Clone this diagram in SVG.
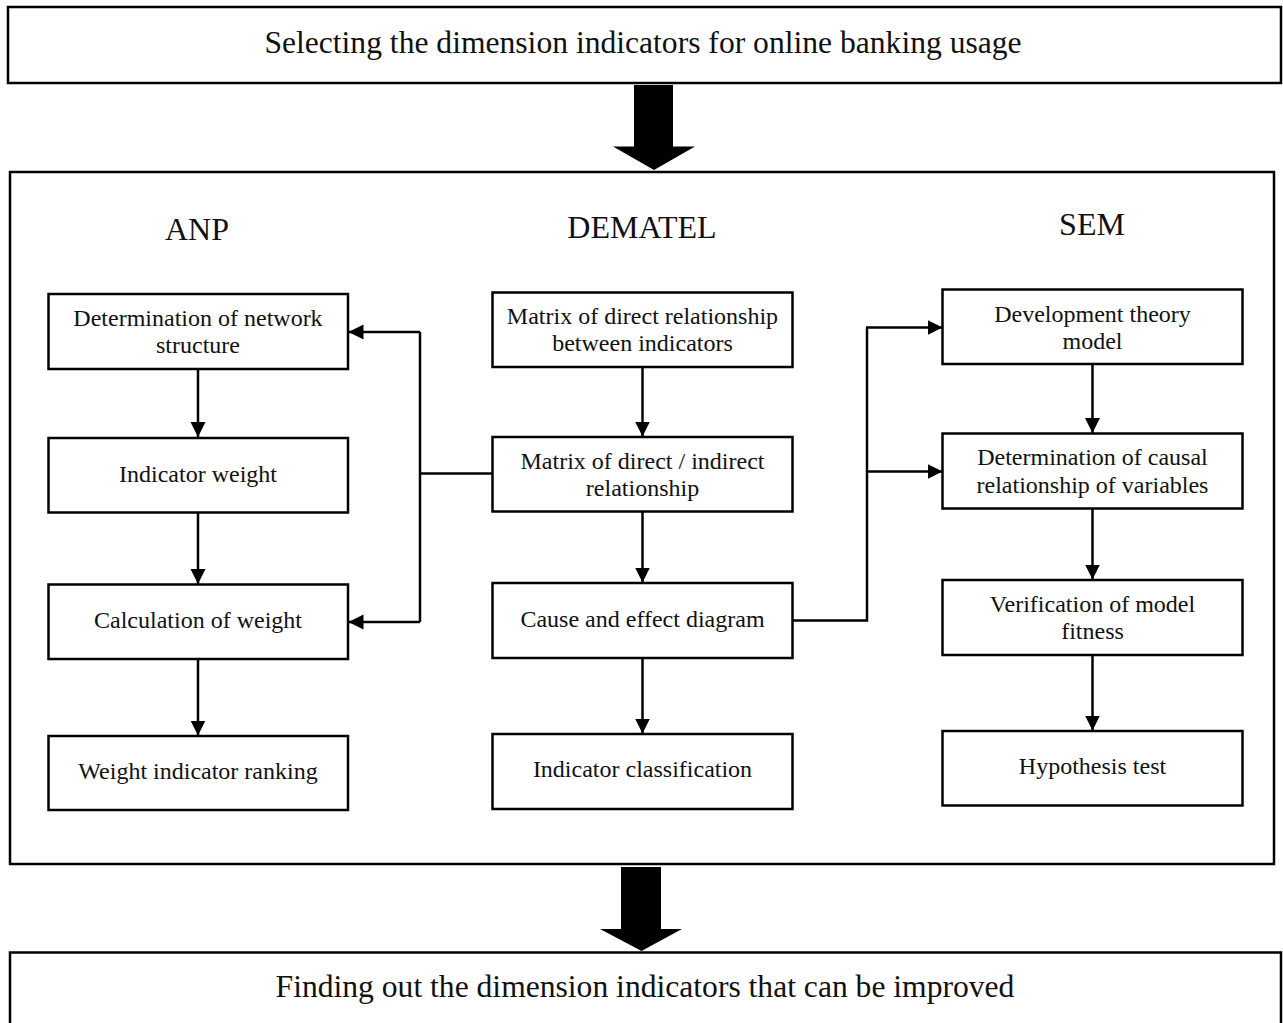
<svg xmlns="http://www.w3.org/2000/svg" width="1283" height="1023" viewBox="0 0 1283 1023">
<style>
.box{fill:#fff;stroke:#000;stroke-width:2.5}
.frame{fill:none;stroke:#000;stroke-width:2.5}
.t{font-family:"Liberation Serif","Times New Roman",serif;font-size:24px;fill:#111;text-anchor:middle}
.big{font-family:"Liberation Serif","Times New Roman",serif;font-size:31.6px;fill:#111;text-anchor:middle}
.hdr{font-family:"Liberation Serif","Times New Roman",serif;font-size:32px;fill:#111;text-anchor:middle}
.ln{fill:none;stroke:#000;stroke-width:2.5}
.arr{fill:none;stroke:#000;stroke-width:2.5;marker-end:url(#ah)}
</style>
<defs>
<marker id="ah" markerUnits="userSpaceOnUse" markerWidth="16" markerHeight="16" refX="15" refY="7.5" orient="auto">
<path d="M0,0 L15,7.5 L0,15 Z" fill="#000"/>
</marker>
</defs>
<rect width="1283" height="1023" fill="#fff"/>

<g id="top">
<rect class="box" x="8" y="7" width="1273" height="76"/>
<text class="big" x="643" y="53">Selecting the dimension indicators for online banking usage</text>
</g>
<g id="bigArrowTop">
<polygon points="634,85 673,85 673,146.5 695,146.5 654,170 613,146.5 634,146.5" fill="#000"/>
</g>

<g id="main">
<rect class="frame" x="10" y="172" width="1264" height="692"/>
<text class="hdr" x="197" y="240">ANP</text>
<text class="hdr" x="642" y="238">DEMATEL</text>
<text class="hdr" x="1092" y="235">SEM</text>
</g>

<g id="anp1"><rect class="box" x="48.5" y="294" width="299.5" height="75"/>
<text class="t" x="198" y="326">Determination of network</text><text class="t" x="198" y="353">structure</text></g>
<g id="anp2"><rect class="box" x="48.5" y="438" width="299.5" height="74.5"/>
<text class="t" x="198" y="481.5">Indicator weight</text></g>
<g id="anp3"><rect class="box" x="48.5" y="584.5" width="299.5" height="74.5"/>
<text class="t" x="198" y="627.5">Calculation of weight</text></g>
<g id="anp4"><rect class="box" x="48.5" y="736" width="299.5" height="74"/>
<text class="t" x="198" y="778.5">Weight indicator ranking</text></g>

<g id="dem1"><rect class="box" x="492.5" y="292.5" width="300" height="74.5"/>
<text class="t" x="642.5" y="323.5">Matrix of direct relationship</text><text class="t" x="642.5" y="351">between indicators</text></g>
<g id="dem2"><rect class="box" x="492.5" y="437" width="300" height="74.5"/>
<text class="t" x="642.5" y="468.5">Matrix of direct / indirect</text><text class="t" x="642.5" y="496">relationship</text></g>
<g id="dem3"><rect class="box" x="492.5" y="583" width="300" height="75"/>
<text class="t" x="642.5" y="626.5">Cause and effect diagram</text></g>
<g id="dem4"><rect class="box" x="492.5" y="734" width="300" height="75"/>
<text class="t" x="642.5" y="777">Indicator classification</text></g>

<g id="sem1"><rect class="box" x="942.5" y="289.5" width="300" height="74.5"/>
<text class="t" x="1092.5" y="321.5">Development theory</text><text class="t" x="1092.5" y="348.5">model</text></g>
<g id="sem2"><rect class="box" x="942.5" y="433.5" width="300" height="75"/>
<text class="t" x="1092.5" y="465">Determination of causal</text><text class="t" x="1092.5" y="492.5">relationship of variables</text></g>
<g id="sem3"><rect class="box" x="942.5" y="580" width="300" height="75"/>
<text class="t" x="1092.5" y="612">Verification of model</text><text class="t" x="1092.5" y="639">fitness</text></g>
<g id="sem4"><rect class="box" x="942.5" y="731" width="300" height="74.5"/>
<text class="t" x="1092.5" y="773.5">Hypothesis test</text></g>

<g id="connectors">
<path class="arr" d="M198,369 V437"/>
<path class="arr" d="M198,512.5 V584"/>
<path class="arr" d="M198,659 V735.5"/>
<path class="arr" d="M642.5,367 V436.5"/>
<path class="arr" d="M642.5,511.5 V582.5"/>
<path class="arr" d="M642.5,658 V733.5"/>
<path class="arr" d="M1092.5,364 V433"/>
<path class="arr" d="M1092.5,508.5 V579.5"/>
<path class="arr" d="M1092.5,655 V730.5"/>
<path class="ln" d="M492.5,473.5 H420"/>
<path class="ln" d="M420,332 V622"/>
<path class="arr" d="M420,332 H348.5"/>
<path class="arr" d="M420,622 H348.5"/>
<path class="ln" d="M792.5,620.5 H867 V327.5"/>
<path class="arr" d="M866,327.5 H942.5"/>
<path class="arr" d="M867,471.5 H942.5"/>
</g>

<g id="bigArrowBottom">
<polygon points="621,867 661,867 661,929 682,929 641.5,951 600,929 621,929" fill="#000"/>
</g>
<g id="bottom">
<rect class="box" x="10" y="952.5" width="1271" height="80"/>
<text class="big" x="645" y="997">Finding out the dimension indicators that can be improved</text>
</g>
</svg>
